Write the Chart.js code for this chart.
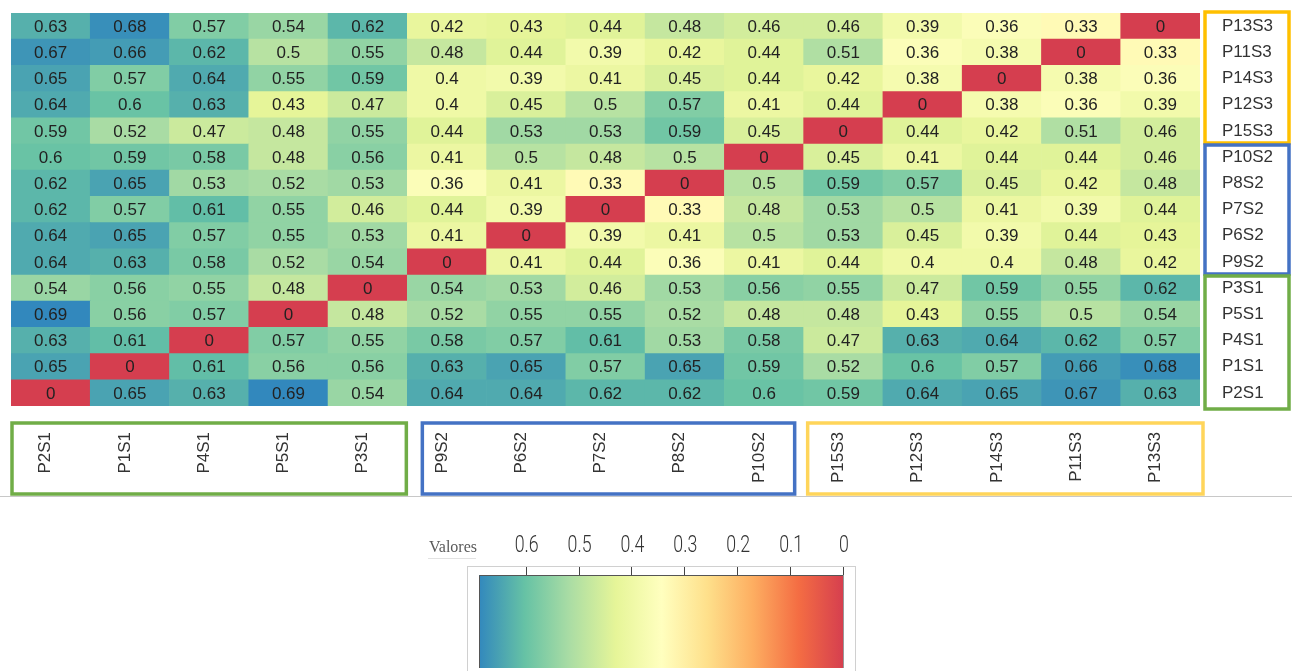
<!DOCTYPE html>
<html>
<head>
<meta charset="utf-8">
<script src="https://cdn.jsdelivr.net/npm/chart.js@4.4.1/dist/chart.umd.min.js"></script>
<style>
  html, body { margin: 0; padding: 0; background: #fff; overflow: hidden; }
  #wrap { position: relative; width: 1292px; height: 671px; }
</style>
</head>
<body>
<div id="wrap"><canvas id="heat"></canvas></div>
<script>
// Column order (bottom axis) and row order (right axis, top to bottom)
const columnLabels = ['P2S1','P1S1','P4S1','P5S1','P3S1','P9S2','P6S2','P7S2','P8S2','P10S2','P15S3','P12S3','P14S3','P11S3','P13S3'];
const rowLabels    = ['P13S3','P11S3','P14S3','P12S3','P15S3','P10S2','P8S2','P7S2','P6S2','P9S2','P3S1','P5S1','P4S1','P1S1','P2S1'];

// Pairwise distances, one array per row (same column order as columnLabels)
const row_P13S3 = [0.63, 0.68, 0.57, 0.54, 0.62, 0.42, 0.43, 0.44, 0.48, 0.46, 0.46, 0.39, 0.36, 0.33, 0];
const row_P11S3 = [0.67, 0.66, 0.62, 0.5,  0.55, 0.48, 0.44, 0.39, 0.42, 0.44, 0.51, 0.36, 0.38, 0,    0.33];
const row_P14S3 = [0.65, 0.57, 0.64, 0.55, 0.59, 0.4,  0.39, 0.41, 0.45, 0.44, 0.42, 0.38, 0,    0.38, 0.36];
const row_P12S3 = [0.64, 0.6,  0.63, 0.43, 0.47, 0.4,  0.45, 0.5,  0.57, 0.41, 0.44, 0,    0.38, 0.36, 0.39];
const row_P15S3 = [0.59, 0.52, 0.47, 0.48, 0.55, 0.44, 0.53, 0.53, 0.59, 0.45, 0,    0.44, 0.42, 0.51, 0.46];
const row_P10S2 = [0.6,  0.59, 0.58, 0.48, 0.56, 0.41, 0.5,  0.48, 0.5,  0,    0.45, 0.41, 0.44, 0.44, 0.46];
const row_P8S2  = [0.62, 0.65, 0.53, 0.52, 0.53, 0.36, 0.41, 0.33, 0,    0.5,  0.59, 0.57, 0.45, 0.42, 0.48];
const row_P7S2  = [0.62, 0.57, 0.61, 0.55, 0.46, 0.44, 0.39, 0,    0.33, 0.48, 0.53, 0.5,  0.41, 0.39, 0.44];
const row_P6S2  = [0.64, 0.65, 0.57, 0.55, 0.53, 0.41, 0,    0.39, 0.41, 0.5,  0.53, 0.45, 0.39, 0.44, 0.43];
const row_P9S2  = [0.64, 0.63, 0.58, 0.52, 0.54, 0,    0.41, 0.44, 0.36, 0.41, 0.44, 0.4,  0.4,  0.48, 0.42];
const row_P3S1  = [0.54, 0.56, 0.55, 0.48, 0,    0.54, 0.53, 0.46, 0.53, 0.56, 0.55, 0.47, 0.59, 0.55, 0.62];
const row_P5S1  = [0.69, 0.56, 0.57, 0,    0.48, 0.52, 0.55, 0.55, 0.52, 0.48, 0.48, 0.43, 0.55, 0.5,  0.54];
const row_P4S1  = [0.63, 0.61, 0,    0.57, 0.55, 0.58, 0.57, 0.61, 0.53, 0.58, 0.47, 0.63, 0.64, 0.62, 0.57];
const row_P1S1  = [0.65, 0,    0.61, 0.56, 0.56, 0.63, 0.65, 0.57, 0.65, 0.59, 0.52, 0.6,  0.57, 0.66, 0.68];
const row_P2S1  = [0,    0.65, 0.63, 0.69, 0.54, 0.64, 0.64, 0.62, 0.62, 0.6,  0.59, 0.64, 0.65, 0.67, 0.63];

const matrixRows = [row_P13S3, row_P11S3, row_P14S3, row_P12S3, row_P15S3,
                    row_P10S2, row_P8S2, row_P7S2, row_P6S2, row_P9S2,
                    row_P3S1, row_P5S1, row_P4S1, row_P1S1, row_P2S1];

// Colour key
const legendTitle = 'Valores';
const legendTicks = [0.6, 0.5, 0.4, 0.3, 0.2, 0.1, 0];
const colorMax = 0.69;
const spectralStops = ['#d53e4f','#f46d43','#fdae61','#fee08b','#ffffbf','#e6f598','#abdda4','#66c2a5','#3288bd'];

const FONT = '"Liberation Sans", Arial, sans-serif';

function hexToRgb(h) {
  const n = parseInt(h.slice(1), 16);
  return [(n >> 16) & 255, (n >> 8) & 255, n & 255];
}
const stopsRgb = spectralStops.map(hexToRgb);
function colorFor(v) {
  const t = Math.max(0, Math.min(1, v / colorMax)) * (stopsRgb.length - 1);
  const i = Math.min(Math.floor(t), stopsRgb.length - 2);
  const f = t - i;
  const a = stopsRgb[i], b = stopsRgb[i + 1];
  const c = a.map((x, k) => Math.round(x + (b[k] - x) * f));
  return `rgb(${c[0]},${c[1]},${c[2]})`;
}

// One stacked dataset per row; the bottom row is stacked first
const datasets = rowLabels.map((name, r) => ({
  label: name,
  data: columnLabels.map(() => 1),
  cellValues: matrixRows[r],
  backgroundColor: matrixRows[r].map(colorFor),
  borderWidth: 0,
  barPercentage: 1,
  categoryPercentage: 1
})).reverse();

// Values written in every cell
const cellText = {
  id: 'cellText',
  afterDatasetsDraw(chart) {
    const ctx = chart.ctx;
    ctx.save();
    ctx.font = '17px ' + FONT;
    ctx.fillStyle = '#222';
    ctx.textAlign = 'center';
    ctx.textBaseline = 'middle';
    chart.data.datasets.forEach((ds, di) => {
      chart.getDatasetMeta(di).data.forEach((el, i) => {
        ctx.fillText(String(ds.cellValues[i]), el.x, (el.y + el.base) / 2 + 1);
      });
    });
    ctx.restore();
  }
};

// Group frames around the labels and the colour key
const frames = {
  id: 'frames',
  afterDraw(chart) {
    const ctx = chart.ctx;
    const area = chart.chartArea;
    const xs = chart.scales.x, ys = chart.scales.y;
    const bandW = (xs.right - xs.left) / columnLabels.length;
    const colEdge = i => xs.left + bandW * i;
    ctx.save();

    // thin rule under the label strip
    ctx.strokeStyle = '#c8c8c8';
    ctx.lineWidth = 1;
    ctx.beginPath();
    ctx.moveTo(0, area.bottom + 90.5);
    ctx.lineTo(chart.width, area.bottom + 90.5);
    ctx.stroke();

    ctx.lineWidth = 3.5;
    // bottom groups
    const bottomTop = area.bottom + 17, bottomH = 71;
    const bottomGroups = [
      { from: 0, to: 5, color: '#70ad47', l: 1, r: -1 },
      { from: 5, to: 10, color: '#4472c4', l: 15, r: -9 },
      { from: 10, to: 15, color: '#ffd55a', l: 4, r: 3 }
    ];
    bottomGroups.forEach(g => {
      ctx.strokeStyle = g.color;
      const x0 = colEdge(g.from) + g.l, x1 = colEdge(g.to) + g.r;
      ctx.strokeRect(x0, bottomTop, x1 - x0, bottomH);
    });

    // right groups
    const rx0 = area.right + 5, rx1 = chart.width - 3;
    const rightGroups = [
      { from: 15, to: 10, color: '#ffc000', t: -1, b: -1 },
      { from: 10, to: 5, color: '#4472c4', t: 1, b: -1 },
      { from: 5, to: 0, color: '#70ad47', t: 1, b: 3 }
    ];
    rightGroups.forEach(g => {
      ctx.strokeStyle = g.color;
      const y0 = ys.getPixelForValue(g.from) + g.t, y1 = ys.getPixelForValue(g.to) + g.b;
      ctx.strokeRect(rx0, y0, rx1 - rx0, y1 - y0);
    });

    // colour key
    const kRight = 844, kLeft = 479, kTop = 575, kBottom = 668;
    const kx = v => kRight - (v / colorMax) * (kRight - kLeft);
    ctx.lineWidth = 1;
    ctx.strokeStyle = '#d0d0d0';
    ctx.strokeRect(467.5, 566.5, 388, 110);
    const grad = ctx.createLinearGradient(kLeft, 0, kRight, 0);
    spectralStops.forEach((c, i) => grad.addColorStop(1 - i / (spectralStops.length - 1), c));
    ctx.fillStyle = grad;
    ctx.fillRect(kLeft, kTop, kRight - kLeft, kBottom - kTop);
    ctx.strokeStyle = '#555';
    ctx.beginPath();
    ctx.moveTo(kLeft + 0.5, kBottom);
    ctx.lineTo(kLeft + 0.5, kTop + 0.5);
    ctx.lineTo(kRight, kTop + 0.5);
    ctx.stroke();
    ctx.strokeStyle = '#999';
    ctx.beginPath();
    ctx.moveTo(kRight - 0.5, kTop);
    ctx.lineTo(kRight - 0.5, kBottom);
    ctx.stroke();
    ctx.strokeStyle = '#444';
    legendTicks.forEach(v => {
      const x = Math.round(kx(v)) - 0.5;
      ctx.beginPath();
      ctx.moveTo(x, kTop - 8);
      ctx.lineTo(x, kTop);
      ctx.stroke();
    });
    ctx.fillStyle = '#333';
    ctx.textAlign = 'center';
    ctx.textBaseline = 'alphabetic';
    legendTicks.forEach(v => {
      ctx.save();
      ctx.translate(kx(v), 552);
      ctx.scale(0.74, 1);
      ctx.font = '300 24px Roboto, "Liberation Sans", sans-serif';
      ctx.fillText(String(v), 0, 0);
      ctx.restore();
    });
    ctx.fillStyle = '#5a5a5a';
    ctx.textAlign = 'left';
    ctx.font = '16px "Liberation Serif", "Times New Roman", serif';
    ctx.fillText(legendTitle, 429, 552);
    ctx.strokeStyle = '#e2e2e2';
    ctx.beginPath();
    ctx.moveTo(428, 558.5);
    ctx.lineTo(476, 558.5);
    ctx.stroke();

    ctx.restore();
  }
};

new Chart(document.getElementById('heat'), {
  type: 'bar',
  data: { labels: columnLabels, datasets },
  options: {
    responsive: true,
    maintainAspectRatio: false,
    devicePixelRatio: 1,
    animation: false,
    layout: { padding: { top: 13, left: 11, right: 0, bottom: 0 } },
    plugins: { legend: { display: false }, tooltip: { enabled: false } },
    scales: {
      x: {
        type: 'category',
        stacked: true,
        position: 'bottom',
        grid: { display: false, drawTicks: false },
        border: { display: false },
        ticks: {
          autoSkip: false,
          minRotation: 90,
          maxRotation: 90,
          padding: 26,
          labelOffset: -5,
          color: '#333',
          font: { family: FONT, size: 17 }
        },
        afterFit(s) { s.height = 265; s.paddingLeft = 0; s.paddingRight = 0; }
      },
      y: { display: false, stacked: true, min: 0, max: rowLabels.length },
      rows: {
        type: 'category',
        labels: rowLabels,
        position: 'right',
        offset: true,
        grid: { display: false, drawTicks: false },
        border: { display: false },
        ticks: { autoSkip: false, padding: 22, color: '#333', font: { family: FONT, size: 17 } },
        afterFit(s) { s.width = 92; s.paddingTop = 0; s.paddingBottom = 0; }
      }
    }
  },
  plugins: [cellText, frames]
});
</script>
</body>
</html>
